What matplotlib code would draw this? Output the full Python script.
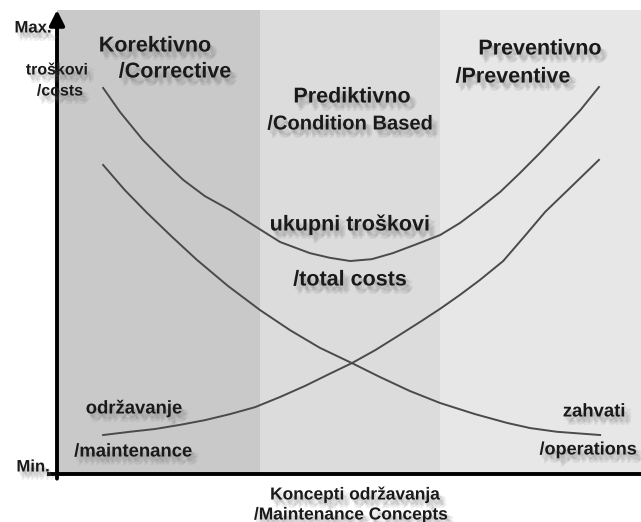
import matplotlib
matplotlib.use("Agg")
import matplotlib.pyplot as plt
import matplotlib.patheffects as pe

# x: maintenance concept (0..100), y: costs (0 = Min., 100 = Max.)
zone_edges = [0, 34.8, 65.6, 100]
zone_colors = ["#c9c9c9", "#dcdcdc", "#e7e7e7"]

total_x = [7.9, 10.8, 14.7, 18.2, 21.6, 25.3, 29.6, 33.9, 38.2, 43.3, 46.7, 50.2,
           53.9, 57.5, 61.3, 65.6, 69.0, 72.4, 75.9, 79.3, 82.7, 86.1, 89.6, 92.8]
total_y = [83.2, 78.0, 72.0, 67.5, 63.4, 59.9, 56.9, 53.4, 50.0, 47.6, 46.6, 45.9,
           46.3, 47.6, 49.4, 51.5, 54.1, 57.3, 60.8, 64.9, 69.2, 73.7, 78.4, 83.4]

maint_x = [7.9, 12.5, 16.8, 21.1, 25.3, 29.6, 33.9, 38.2, 42.5, 46.7, 50.5,
           54.5, 58.7, 62.2, 65.6, 69.0, 72.4, 76.4, 80.1, 83.6, 87.8, 92.8]
maint_y = [8.4, 9.1, 9.7, 10.6, 11.6, 12.9, 14.4, 16.6, 19.0, 21.6, 23.9,
           26.7, 30.0, 32.8, 35.6, 38.6, 41.8, 45.9, 51.3, 56.5, 61.6, 67.7]

oper_x = [7.9, 11.6, 15.4, 19.7, 24.0, 29.3, 34.8, 39.9, 45.0, 50.5,
          55.3, 60.4, 65.6, 71.6, 77.1, 81.0, 85.6, 93.0]
oper_y = [66.6, 61.2, 56.3, 51.1, 46.1, 40.5, 35.3, 31.0, 27.2, 23.9,
          20.9, 17.9, 15.3, 12.9, 11.0, 9.9, 9.1, 8.4]

W, H = 641, 522
fig = plt.figure(figsize=(W / 100, H / 100), dpi=100)
x0, x1 = 57, 641
y0, y1 = 474, 10
ax = fig.add_axes([x0 / W, 1 - y0 / H, (x1 - x0) / W, (y0 - y1) / H])
ax.set_xlim(0, 100)
ax.set_ylim(0, 100)
ax.axis("off")

for i in range(3):
    ax.axvspan(zone_edges[i], zone_edges[i + 1], color=zone_colors[i], lw=0, zorder=0)

for xs, ys in [(total_x, total_y), (maint_x, maint_y), (oper_x, oper_y)]:
    ax.plot(xs, ys, color="#4a4a4a", lw=1.4, zorder=2)

# soft drop shadow, built from a few faint offset copies
shadow = [pe.SimplePatchShadow(offset=(dx, -dy), shadow_rgbFace="#707070", alpha=0.11)
          for dx, dy in [(1, 2), (2, 3), (3, 4), (4, 5), (3, 6), (5, 4)]] + [pe.Normal()]
font = ["Liberation Sans", "DejaVu Sans"]
narrow = ["Liberation Sans Narrow", "Liberation Sans", "DejaVu Sans"]


def px(x, y, s, size, fam=font, ha="center", **kw):
    fig.text(x / W, 1 - y / H, s, ha=ha, va="center", fontsize=size, fontweight="bold",
             family=fam, color="#1a1a1a", path_effects=shadow, **kw)


px(155, 46, "Korektivno", 15.5)
px(175, 72, "/Corrective", 15.5)
px(352, 97, "Prediktivno", 15.5)
px(350, 124, "/Condition Based", 14.5)
px(540, 49, "Preventivno", 15.5)
px(513, 77, "/Preventive", 15.5)
px(350, 225, "ukupni troškovi", 15.5)
px(350, 280, "/total costs", 15.5)
px(134, 409, "održavanje", 13.3, fam=narrow)
px(133, 452, "/maintenance", 13.3, fam=narrow)
px(594, 412, "zahvati", 13.3, fam=narrow)
px(588, 450, "/operations", 13, fam=narrow)
px(57, 70, "troškovi", 11.5, zorder=1)
px(60, 91, "/costs", 11.5, zorder=1)
px(33, 28, "Max.", 12, fam=narrow)
px(33, 467, "Min.", 12, fam=narrow)
px(355, 495, "Koncepti održavanja", 12.5, fam=narrow)
px(351, 515, "/Maintenance Concepts", 12.5, fam=narrow)

# axes: vertical with arrow head, horizontal baseline
ax.annotate("", xy=(0, 100), xytext=(0, -1), xycoords="data",
            arrowprops=dict(arrowstyle="-|>,head_length=0.9,head_width=0.45", color="black", lw=2.8,
                            shrinkA=0, shrinkB=0), annotation_clip=False, zorder=5)
ax.plot([-1.7, 100], [0, 0], color="black", lw=2.8, clip_on=False, zorder=5, solid_capstyle="butt")

fig.savefig("out.png", dpi=100)
